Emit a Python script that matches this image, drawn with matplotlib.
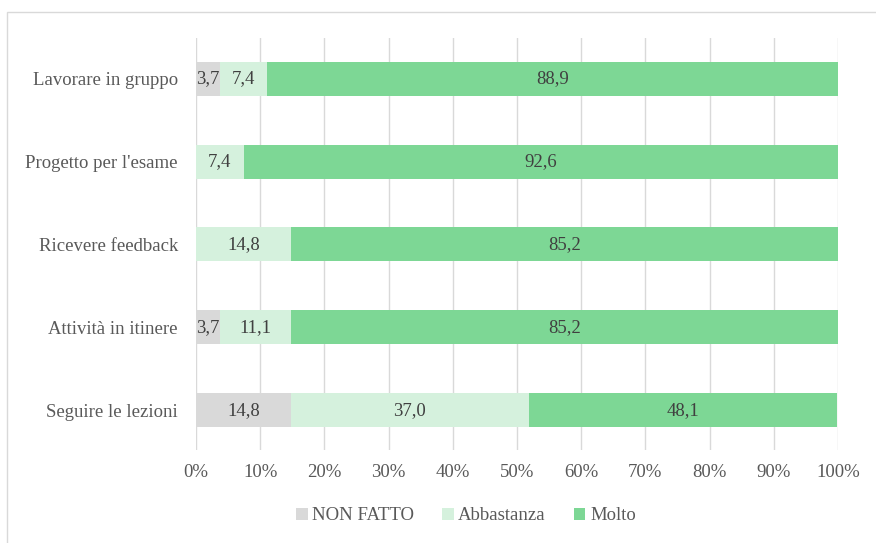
import matplotlib.pyplot as plt
from matplotlib.patches import Rectangle

categorie = ["Seguire le lezioni", "Attività in itinere", "Ricevere feedback",
             "Progetto per l'esame", "Lavorare in gruppo"]
non_fatto = [14.8, 3.7, 0.0, 0.0, 3.7]
abbastanza = [37.0, 11.1, 14.8, 7.4, 7.4]
molto = [48.1, 85.2, 85.2, 92.6, 88.9]

serie = [("NON FATTO", non_fatto, "#d9d9d9"),
         ("Abbastanza", abbastanza, "#d5f1dd"),
         ("Molto", molto, "#7dd795")]

plt.rcParams["font.family"] = ["Liberation Serif", "DejaVu Serif"]

fig = plt.figure(figsize=(8.76, 5.43), dpi=100)
ax = fig.add_axes([196 / 876, 1 - 450 / 543, 642 / 876, 412 / 543])

# bordo esterno del grafico
fig.patches.append(Rectangle((7 / 876, -0.01), 0.995, 1 - 12 / 543 + 0.01,
                             transform=fig.transFigure, fill=False,
                             edgecolor="#d9d9d9", linewidth=1))

y = range(len(categorie))
left = [0.0] * len(categorie)
for nome, valori, colore in serie:
    ax.barh(y, valori, left=left, height=0.41, color=colore, label=nome, zorder=3)
    for i, v in enumerate(valori):
        if v > 0:
            ax.text(left[i] + v / 2, i, f"{v:.1f}".replace(".", ","),
                    ha="center", va="center", fontsize=13.5, color="#404040", zorder=4)
    left = [a + b for a, b in zip(left, valori)]

ax.set_xlim(0, 100)
ax.set_ylim(-0.48, 4.49)
ax.set_xticks(range(0, 101, 10))
ax.set_xticklabels([f"{t}%" for t in range(0, 101, 10)])
ax.set_yticks(list(y))
ax.set_yticklabels(categorie)
ax.tick_params(axis="both", length=0, labelsize=13.5, labelcolor="#595959")
ax.tick_params(axis="x", pad=10)
ax.tick_params(axis="y", pad=13)
ax.grid(axis="x", color="#d9d9d9", linewidth=1, zorder=0)
for s in ax.spines.values():
    s.set_visible(False)

ax.legend(loc="center", bbox_to_anchor=(466 / 876, 1 - 516 / 543),
          bbox_transform=fig.transFigure, ncol=3, frameon=False,
          fontsize=13.5, handlelength=0.6, handleheight=0.6, handletextpad=0.25,
          columnspacing=1.5, labelcolor="#595959")

fig.savefig("out.png", dpi=100)
